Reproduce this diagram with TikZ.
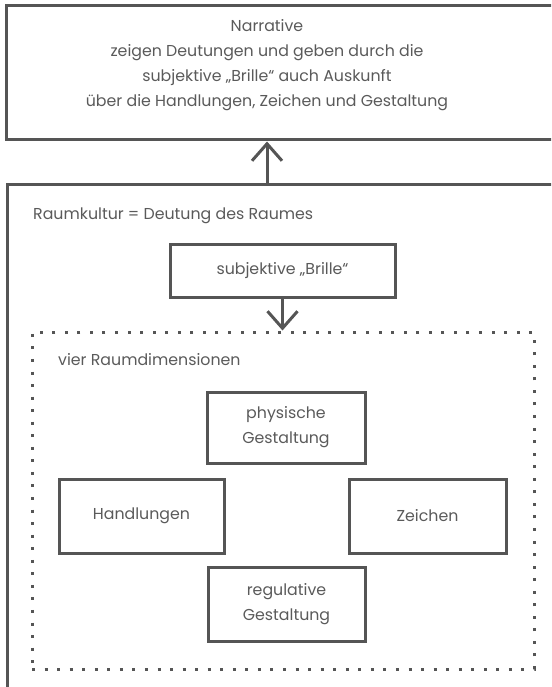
\documentclass[tikz,border=0pt]{standalone}
\usepackage{fontspec}
\setmainfont{Poppins}[Ligatures=NoCommon]
\usetikzlibrary{arrows.meta}
\definecolor{linegray}{HTML}{555555}
\definecolor{textgray}{HTML}{5A5A5A}
\tikzset{
  x=1pt, y=-1pt,
  every node/.style={text=textgray, font=\fontsize{15.8}{25}\selectfont, inner sep=0pt},
  solidbox/.style={draw=linegray, line width=3pt, minimum width=#1},
  dotbox/.style={draw=linegray, line width=3pt, dash pattern=on 3pt off 9.55pt},
  arr/.style={draw=linegray, line width=3pt, -{Straight Barb[length=17pt,width=30pt,line width=3pt]}},
  txt/.style={align=center}
}
\begin{document}
\begin{tikzpicture}
\useasboundingbox (0,0) rectangle (551,687);
\clip (0,0) rectangle (551,687);
% top box (runs off right edge)
\node[solidbox=614pt, minimum height=134pt] (narr) at (313,73) {};
\node[txt] (narrtext) at (267,65) {Narrative\\zeigen Deutungen und geben durch die\\subjektive „Brille“ auch Auskunft\\über die Handlungen, Zeichen und Gestaltung};
% outer box (runs off right and bottom edges)
\node[solidbox=613pt, minimum height=540pt] (raum) at (313.5,454) {};
\node[anchor=west] (raumtext) at (33,216) {Raumkultur = Deutung des Raumes};
\node[solidbox=225pt, minimum height=53pt] (brille) at (282.5,270.5) {subjektive „Brille“};
% dotted box
\node[dotbox, minimum width=502pt, minimum height=337pt] (dims) at (283,500.5) {};
\node[anchor=west] (dimstext) at (58,360) {vier Raumdimensionen};
\node[solidbox=158pt, minimum height=71pt, txt] (phys) at (286,427.5) {physische\\Gestaltung};
\node[solidbox=165pt, minimum height=74pt] (hand) at (141.5,516) {Handlungen};
\node[solidbox=157pt, minimum height=74pt] (zeich) at (427.5,516) {Zeichen};
\node[solidbox=157pt, minimum height=74pt, txt] (reg) at (286.5,604) {regulative\\Gestaltung};
% connectors
\draw[arr] (raum.north -| narrtext) -- (narr.south -| narrtext);
\draw[arr] (brille.south) -- (dims.north -| brille.south);
\end{tikzpicture}
\end{document}
